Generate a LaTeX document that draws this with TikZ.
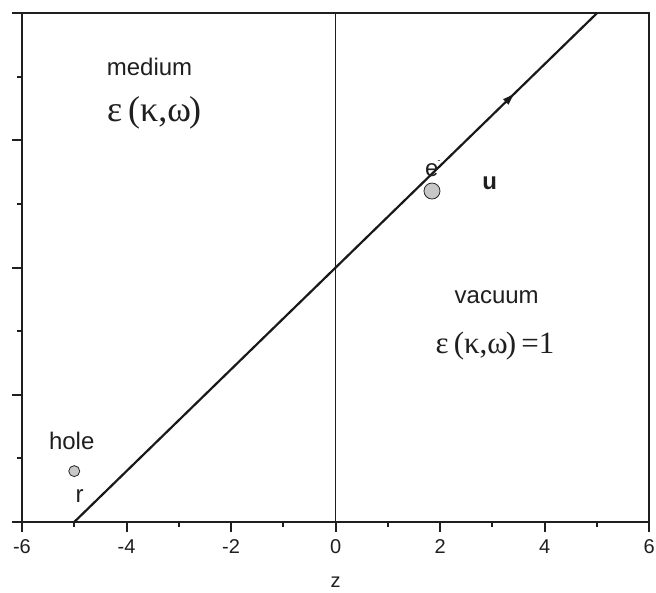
\documentclass[tikz,border=0pt]{standalone}
\usepackage{fontspec}
\setmainfont{Liberation Sans}
\newfontfamily\greekfont{Liberation Serif}
\usetikzlibrary{arrows.meta,decorations.markings}
\begin{document}
\begin{tikzpicture}[x=1pt,y=1pt,
  axisline/.style={line width=2pt, draw=black!88},
  zeroline/.style={line width=1.6pt, draw=black!88},
  traj/.style={line width=2.2pt, draw=black!90,
    postaction={decorate},
    decoration={markings, mark=at position 0.845 with {\arrow{Latex[length=14pt,width=8pt]}}}},
  particle/.style={circle, draw=black!85, line width=0.8pt, fill=black!22, inner sep=0pt},
  ticklabel/.style={font=\fontsize{20}{24}\selectfont, inner sep=0pt, text=black!88},
  lbl/.style={font=\fontsize{24}{28}\selectfont, inner sep=0pt, anchor=base, text=black!88},
  eqlbl/.style={inner sep=0pt, anchor=base, text=black!88}]
\useasboundingbox (0,0) rectangle (656,592);
\begin{scope}[shift={(335.6,70)}, x=52.27pt, y=63.6pt]
  % frame
  \coordinate (bl) at (-6,0);
  \coordinate (tr) at (6,8);
  \draw[axisline] (bl) rectangle (tr);
  % x ticks
  \foreach \i in {-6,-4,...,6} {
    \draw[axisline] (\i,0) -- ++(0,-10pt);
    \node[ticklabel] (t\i) at (\i,0) [yshift=-25pt] {\i};
  }
  \foreach \i in {-5,-3,...,5} \draw[axisline] (\i,0) -- ++(0,-5pt);
  % y ticks
  \foreach \j in {0,2,...,8} \draw[axisline] (-6,\j) -- ++(-10pt,0);
  \foreach \j in {1,3,...,7} \draw[axisline] (-6,\j) -- ++(-5pt,0);
  % axis title
  \node[ticklabel, anchor=base] (zlab) at (0,0) [yshift=-65pt] {z};
  % interface
  \coordinate (ifb) at (0,0);
  \coordinate (ift) at (0,8);
  \draw[zeroline] (ifb) -- (ift);
  % trajectory
  \coordinate (start) at (-5,0);
  \coordinate (end) at (5,8);
  \draw[traj] (start) -- (end);
  % particles
  \node[particle, minimum size=16pt] (elec) at (1.844,5.204) {};
  \node[particle, minimum size=11pt] (hole) at (-5.0,0.80) {};
\end{scope}
% labels
\node[lbl] (medium) at (149.5,516) {medium};
\node[eqlbl, font=\greekfont\fontsize{36}{40}\selectfont] (epsmed) at (154,470.3) {ε\,(κ,ω\kern-2pt)};
\node[lbl] (vacuum) at (496.7,288.7) {vacuum};
\node[eqlbl, font=\greekfont\fontsize{31}{34}\selectfont] (epsvac) at (495,238.7) {ε\,(κ,ω\kern-2pt)\,=1};
\node[lbl] (holelab) at (71.7,142.7) {hole};
\node[lbl] (rlab) at (79.5,89) {r};
\node[lbl, anchor=base west] (elab) at (425,415) {e\kern-1pt\raisebox{13pt}{\fontsize{9}{9}\selectfont -}};
\node[lbl, font=\bfseries\fontsize{24}{28}\selectfont] (ulab) at (489.7,402.7) {u};
\end{tikzpicture}
\end{document}
